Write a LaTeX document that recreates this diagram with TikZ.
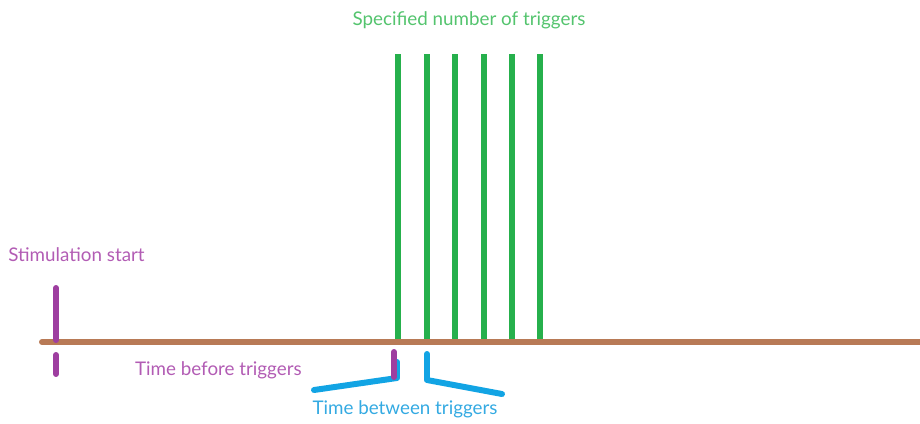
\documentclass[tikz,border=0pt]{standalone}
\usepackage{fontspec}
\setmainfont{Lato}
\usetikzlibrary{positioning}
\definecolor{axisbrown}{RGB}{184,122,86}
\definecolor{trigreen}{RGB}{38,176,76}
\definecolor{trigtext}{RGB}{84,196,110}
\definecolor{stimpurple}{RGB}{158,62,160}
\definecolor{stimtext}{RGB}{178,92,180}
\definecolor{gapblue}{RGB}{18,164,228}
\definecolor{gaptext}{RGB}{52,170,226}
\tikzset{
  timeline/.style={line width=3.4pt, draw=axisbrown, line cap=round},
  trigbar/.style={line width=3.4pt, draw=trigreen},
  startbar/.style={line width=3.4pt, draw=stimpurple, line cap=round},
  gapbracket/.style={line width=3.4pt, draw=gapblue, line cap=round, line join=round},
  lbl/.style={font=\fontsize{10.7}{12}\selectfont, inner sep=0pt, text=#1},
}

\begin{document}
\begin{tikzpicture}[x=0.02cm, y=-0.02cm]
  \useasboundingbox (0,0) rectangle (920,423);

  % triggers
  \foreach \x [count=\i] in {398,427,455,484,512,540} {
    \coordinate (trigtop\i) at (\x,54);
    \coordinate (trigbot\i) at (\x,341);
    \draw[trigbar] (trigtop\i) -- (trigbot\i);
  }

  % time axis
  \coordinate (axisL) at (42,342);
  \coordinate (axisR) at (925,342);
  \draw[timeline] (axisL) -- (axisR);

  % stimulation start
  \coordinate (stimtop) at (56,288);
  \coordinate (stimmid) at (56,340);
  \coordinate (stimlo)  at (56,355);
  \coordinate (stimbot) at (56,374);
  \draw[startbar] (stimtop) -- (stimmid);
  \draw[startbar] (stimlo) -- (stimbot);

  % brackets
  \coordinate (gapLa) at (314,390);
  \coordinate (gapLb) at (397,378);
  \coordinate (gapLc) at (397,362);
  \coordinate (gapRa) at (427,354);
  \coordinate (gapRb) at (427,380);
  \coordinate (gapRc) at (502,394);
  \draw[gapbracket] (gapLa) -- (gapLb) -- (gapLc);
  \draw[gapbracket] (gapRa) -- (gapRb) -- (gapRc);
  \coordinate (befTop) at (394,352);
  \coordinate (befBot) at (394,377);
  \draw[startbar] (befTop) -- (befBot);

  % labels
  \node[lbl=trigtext] (triglbl) at (469,20) {Specified number of triggers};
  \node[lbl=stimtext, anchor=west] (stimlbl) at (8,255) {Stimulation start};
  \node[lbl=stimtext, anchor=east] (beflbl) at (302,370) {Time before triggers};
  \node[lbl=gaptext] (gaplbl) at (405,409) {Time between triggers};
\end{tikzpicture}
\end{document}
